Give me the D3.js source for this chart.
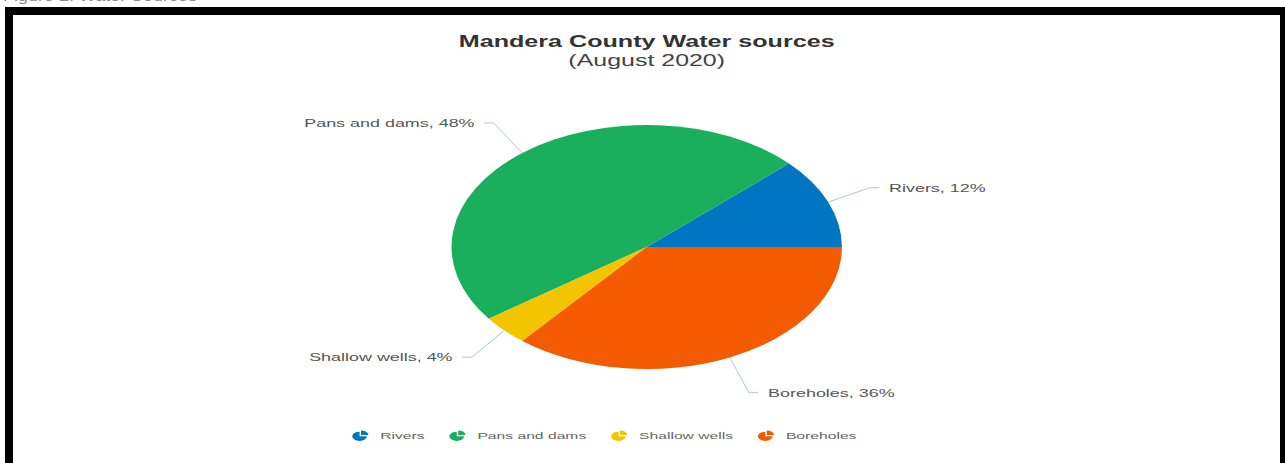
<!DOCTYPE html>
<html>
<head>
<meta charset="utf-8">
<script src="https://cdn.jsdelivr.net/npm/d3@7"></script>
<style>
  html, body { margin: 0; padding: 0; background: #fff; overflow: hidden; }
  svg { display: block; font-family: "Liberation Sans", Arial, Helvetica, sans-serif; }
</style>
</head>
<body>
<svg id="chart" width="1285" height="463"></svg>
<script>
// Water source shares, Mandera County, August 2020
const categories = ["Rivers", "Pans and dams", "Shallow wells", "Boreholes"];
const shares = [12, 48, 4, 36];
const colors = ["#0075c2", "#1aaf5d", "#f2c500", "#f45b00"];
const chartTitle = "Mandera County Water sources";
const chartSubtitle = "(August 2020)";
const pageHeading = "Figure 2: Water Sources";

const svg = d3.select("#chart");
const SX = 1.6;             // horizontal stretch of the chart drawing
const cx = 646.7, cy = 247; // pie centre
const r = 122;              // pie radius (unstretched units)
const bendRx = 150, bendRy = 161; // oval on which connector lines bend
const maxLabelY = 146;      // lowest allowed label position below centre

// page heading above the frame (mostly cut off)
svg.append("text")
  .attr("x", 3).attr("y", 0.5)
  .attr("textLength", 194).attr("lengthAdjust", "spacingAndGlyphs")
  .attr("font-size", 15).attr("fill", "#8a8a8a")
  .text(pageHeading);

// black frame
svg.append("rect")
  .attr("x", 9).attr("y", 11)
  .attr("width", 1275).attr("height", 480)
  .attr("fill", "none").attr("stroke", "#000").attr("stroke-width", 8);

// title + subtitle
const head = svg.append("g").attr("transform", `translate(${cx},0) scale(${SX},1)`);
head.append("text")
  .attr("x", 0).attr("y", 47.5)
  .attr("text-anchor", "middle")
  .attr("font-size", 15.7).attr("font-weight", "bold").attr("fill", "#333")
  .text(chartTitle);
head.append("text")
  .attr("x", 0).attr("y", 66.5)
  .attr("text-anchor", "middle")
  .attr("font-size", 15.6).attr("fill", "#444")
  .text(chartSubtitle);

// pie, running counter-clockwise from 3 o'clock
const pie = d3.pie().sort(null).value(d => d)
  .startAngle(Math.PI / 2).endAngle(Math.PI / 2 - 2 * Math.PI);
const arcs = pie(shares);
const arc = d3.arc().innerRadius(0).outerRadius(r);

const plot = svg.append("g").attr("transform", `translate(${cx},${cy}) scale(${SX},1)`);
plot.selectAll("path.slice")
  .data(arcs)
  .join("path")
  .attr("class", "slice")
  .attr("d", arc)
  .attr("fill", (d, i) => colors[i]);

// data labels with connector lines
arcs.forEach((a, i) => {
  const mid = (a.startAngle + a.endAngle) / 2;
  const side = Math.sin(mid) >= 0 ? 1 : -1;
  // vertical position on the bend oval, kept above the legend area
  const y = Math.min(-bendRy * Math.cos(mid), maxLabelY);
  const c = -y / bendRy;                       // cos of the effective angle
  const s = side * Math.sqrt(Math.max(0, 1 - c * c));
  const x = bendRx * s;
  const tx = r * s, ty = -r * c;              // where the line meets the pie
  const ex = x + side * 6;
  plot.append("path")
    .attr("d", d3.line()([[tx, ty], [x, y], [ex, y]]))
    .attr("fill", "none")
    .attr("stroke", "#a6c9da")
    .attr("stroke-width", 1)
    .attr("vector-effect", "non-scaling-stroke");
  plot.append("text")
    .attr("x", ex + side * 6).attr("y", y)
    .attr("dy", "0.36em")
    .attr("text-anchor", side > 0 ? "start" : "end")
    .attr("font-size", 11.2).attr("fill", "#555")
    .text(`${categories[i]}, ${shares[i]}%`);
});

// legend
const legend = svg.append("g").attr("transform", `translate(353,436) scale(${SX},1)`);
const iconR = 4.6;
const iconArc = d3.arc().innerRadius(0).outerRadius(iconR);
let lx = 0;
categories.forEach((c, i) => {
  const item = legend.append("g").attr("transform", `translate(${lx},0)`);
  const ic = item.append("g").attr("transform", `translate(${iconR - 0.5},0.3)`);
  ic.append("path")
    .attr("d", iconArc({ startAngle: Math.PI / 2, endAngle: 2 * Math.PI }))
    .attr("fill", colors[i]);
  ic.append("path")
    .attr("transform", "translate(0.9,-1.2)")
    .attr("d", iconArc({ startAngle: 0, endAngle: Math.PI / 2 }))
    .attr("fill", colors[i]);
  const t = item.append("text")
    .attr("x", 17).attr("y", 0).attr("dy", "0.35em")
    .attr("font-size", 9.8).attr("fill", "#666")
    .text(c);
  lx += 17 + t.node().getComputedTextLength() + 16;
});
</script>
</body>
</html>
